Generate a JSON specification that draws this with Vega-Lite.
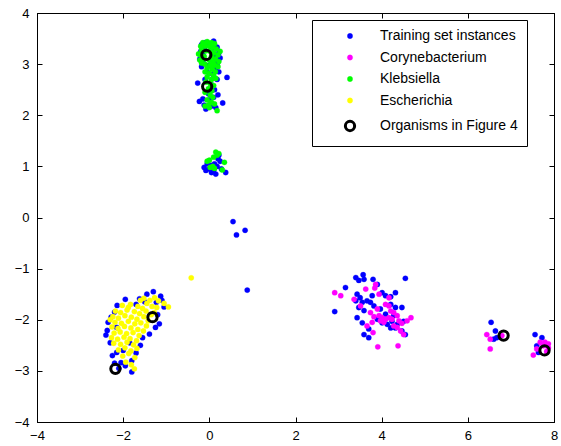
{
"$schema": "https://vega.github.io/schema/vega-lite/v6.json",
"width": 517, "height": 409,
"autosize": {"type": "none"},
"padding": {"left": 37, "top": 13, "right": 7, "bottom": 24},
"background": "white",
"config": {
 "view": {"stroke": "black", "strokeWidth": 1},
 "axis": {"grid": false, "domainColor": "black", "domainWidth": 1, "tickColor": "black", "tickSize": -5, "tickWidth": 1, "labelColor": "black", "labelFont": "Liberation Sans", "labelFontSize": 13, "labelPadding": 12, "labelFlush": false, "labelOverlap": false, "title": null},
 "axisY": {"labelPadding": 13}
},
"data": {"values": [
{"x":-0.18,"y":3.38,"g":"T"},{"x":-0.1,"y":3.42,"g":"T"},{"x":0.0,"y":3.4,"g":"T"},{"x":0.1,"y":3.38,"g":"T"},{"x":0.18,"y":3.33,"g":"T"},{"x":-0.2,"y":3.25,"g":"T"},{"x":-0.12,"y":3.3,"g":"T"},{"x":0.05,"y":3.3,"g":"T"},{"x":0.22,"y":3.22,"g":"T"},{"x":-0.22,"y":3.1,"g":"T"},{"x":-0.15,"y":3.05,"g":"T"},{"x":0.12,"y":3.15,"g":"T"},{"x":0.2,"y":3.05,"g":"T"},{"x":0.25,"y":3.12,"g":"T"},{"x":-0.18,"y":2.95,"g":"T"},{"x":0.0,"y":2.98,"g":"T"},{"x":0.15,"y":2.92,"g":"T"},{"x":0.22,"y":2.85,"g":"T"},{"x":-0.05,"y":2.85,"g":"T"},{"x":0.08,"y":2.8,"g":"T"},{"x":0.18,"y":2.7,"g":"T"},{"x":0.41,"y":2.74,"g":"T"},{"x":-0.27,"y":2.63,"g":"T"},{"x":-0.1,"y":2.7,"g":"T"},{"x":0.05,"y":2.6,"g":"T"},{"x":0.12,"y":2.5,"g":"T"},{"x":-0.02,"y":2.42,"g":"T"},{"x":0.1,"y":2.35,"g":"T"},{"x":0.2,"y":2.4,"g":"T"},{"x":-0.23,"y":2.27,"g":"T"},{"x":0.31,"y":2.24,"g":"T"},{"x":-0.12,"y":2.2,"g":"T"},{"x":0.05,"y":2.18,"g":"T"},{"x":-0.15,"y":2.32,"g":"T"},{"x":0.0,"y":2.3,"g":"T"},{"x":0.15,"y":2.15,"g":"T"},{"x":-0.08,"y":2.12,"g":"T"},{"x":0.1,"y":3.45,"g":"T"},{"x":-0.15,"y":3.18,"g":"T"},{"x":0.18,"y":3.0,"g":"T"},
{"x":-0.12,"y":0.98,"g":"T"},{"x":-0.08,"y":0.92,"g":"T"},{"x":0.0,"y":0.95,"g":"T"},{"x":0.05,"y":0.88,"g":"T"},{"x":0.1,"y":0.92,"g":"T"},{"x":0.18,"y":1.0,"g":"T"},{"x":0.12,"y":1.05,"g":"T"},{"x":0.2,"y":1.15,"g":"T"},{"x":0.25,"y":1.1,"g":"T"},{"x":0.05,"y":1.02,"g":"T"},{"x":0.28,"y":0.95,"g":"T"},{"x":0.38,"y":0.88,"g":"T"},{"x":-0.05,"y":1.05,"g":"T"},{"x":0.15,"y":0.85,"g":"T"},{"x":0.22,"y":1.22,"g":"T"},
{"x":0.55,"y":-0.08,"g":"T"},{"x":0.83,"y":-0.25,"g":"T"},{"x":0.63,"y":-0.34,"g":"T"},{"x":0.88,"y":-1.42,"g":"T"},
{"x":-2.14,"y":-1.72,"g":"T"},{"x":-2.37,"y":-2.21,"g":"T"},{"x":-2.28,"y":-1.95,"g":"T"},{"x":-1.62,"y":-1.59,"g":"T"},{"x":-1.13,"y":-1.54,"g":"T"},{"x":-1.23,"y":-1.66,"g":"T"},{"x":-1.16,"y":-2.08,"g":"T"},{"x":-1.39,"y":-2.28,"g":"T"},{"x":-2.15,"y":-2.64,"g":"T"},{"x":-1.8,"y":-2.8,"g":"T"},{"x":-1.8,"y":-3.02,"g":"T"},{"x":-2.05,"y":-2.84,"g":"T"},{"x":-2.3,"y":-2.45,"g":"T"},{"x":-2.35,"y":-2.05,"g":"T"},{"x":-1.95,"y":-1.6,"g":"T"},{"x":-1.45,"y":-1.5,"g":"T"},{"x":-1.1,"y":-1.62,"g":"T"},{"x":-1.05,"y":-1.75,"g":"T"},{"x":-1.25,"y":-2.15,"g":"T"},{"x":-1.55,"y":-2.35,"g":"T"},{"x":-2.25,"y":-2.7,"g":"T"},{"x":-2.1,"y":-2.95,"g":"T"},{"x":-2.2,"y":-2.85,"g":"T"},{"x":-1.95,"y":-2.9,"g":"T"},{"x":-1.7,"y":-2.65,"g":"T"},{"x":-2.4,"y":-2.3,"g":"T"},{"x":-2.2,"y":-1.85,"g":"T"},{"x":-1.3,"y":-1.45,"g":"T"},{"x":-1.5,"y":-1.65,"g":"T"},{"x":-1.2,"y":-1.9,"g":"T"},{"x":-1.6,"y":-2.5,"g":"T"},{"x":-2.0,"y":-2.6,"g":"T"},{"x":-1.85,"y":-2.45,"g":"T"},{"x":-2.15,"y":-2.15,"g":"T"},{"x":-1.7,"y":-1.7,"g":"T"},
{"x":3.40,"y":-1.175,"g":"T"},{"x":3.47,"y":-1.23,"g":"T"},{"x":3.57,"y":-1.12,"g":"T"},{"x":3.59,"y":-1.21,"g":"T"},{"x":3.80,"y":-1.21,"g":"T"},{"x":3.90,"y":-1.31,"g":"T"},{"x":4.55,"y":-1.19,"g":"T"},{"x":3.16,"y":-1.37,"g":"T"},{"x":3.43,"y":-1.50,"g":"T"},{"x":3.50,"y":-1.57,"g":"T"},{"x":3.40,"y":-1.63,"g":"T"},{"x":3.55,"y":-1.66,"g":"T"},{"x":3.66,"y":-1.63,"g":"T"},{"x":3.78,"y":-1.53,"g":"T"},{"x":4.01,"y":-1.47,"g":"T"},{"x":4.09,"y":-1.53,"g":"T"},{"x":4.21,"y":-1.55,"g":"T"},{"x":4.32,"y":-1.47,"g":"T"},{"x":3.47,"y":-1.76,"g":"T"},{"x":3.59,"y":-1.82,"g":"T"},{"x":2.91,"y":-1.84,"g":"T"},{"x":3.82,"y":-1.73,"g":"T"},{"x":3.97,"y":-1.79,"g":"T"},{"x":4.21,"y":-1.70,"g":"T"},{"x":4.32,"y":-1.76,"g":"T"},{"x":4.47,"y":-1.76,"g":"T"},{"x":3.43,"y":-1.96,"g":"T"},{"x":3.55,"y":-2.06,"g":"T"},{"x":3.90,"y":-1.99,"g":"T"},{"x":4.01,"y":-2.06,"g":"T"},{"x":4.13,"y":-2.09,"g":"T"},{"x":4.24,"y":-2.03,"g":"T"},{"x":4.36,"y":-2.09,"g":"T"},{"x":4.51,"y":-2.03,"g":"T"},{"x":4.47,"y":-2.22,"g":"T"},{"x":4.55,"y":-2.29,"g":"T"},{"x":3.70,"y":-2.18,"g":"T"},{"x":3.59,"y":-2.29,"g":"T"},{"x":3.70,"y":-2.35,"g":"T"},{"x":4.21,"y":-2.16,"g":"T"},{"x":4.32,"y":-2.16,"g":"T"},{"x":3.74,"y":-1.66,"g":"T"},{"x":4.28,"y":-1.92,"g":"T"},{"x":4.09,"y":-1.89,"g":"T"},
{"x":6.54,"y":-2.05,"g":"T"},{"x":6.64,"y":-2.22,"g":"T"},{"x":6.60,"y":-2.38,"g":"T"},{"x":6.67,"y":-2.35,"g":"T"},{"x":7.56,"y":-2.29,"g":"T"},{"x":7.72,"y":-2.35,"g":"T"},{"x":7.60,"y":-2.51,"g":"T"},{"x":7.64,"y":-2.64,"g":"T"},
{"x":3.86,"y":-1.31,"g":"C"},{"x":3.84,"y":-1.38,"g":"C"},{"x":3.63,"y":-1.40,"g":"C"},{"x":2.91,"y":-1.47,"g":"C"},{"x":3.05,"y":-1.53,"g":"C"},{"x":3.36,"y":-1.60,"g":"C"},{"x":3.51,"y":-1.73,"g":"C"},{"x":3.94,"y":-1.50,"g":"C"},{"x":4.17,"y":-1.57,"g":"C"},{"x":4.09,"y":-1.70,"g":"C"},{"x":4.17,"y":-1.73,"g":"C"},{"x":3.90,"y":-1.79,"g":"C"},{"x":4.21,"y":-1.83,"g":"C"},{"x":4.28,"y":-1.86,"g":"C"},{"x":3.74,"y":-1.86,"g":"C"},{"x":3.82,"y":-1.94,"g":"C"},{"x":3.94,"y":-1.92,"g":"C"},{"x":4.01,"y":-1.96,"g":"C"},{"x":4.09,"y":-1.99,"g":"C"},{"x":4.17,"y":-1.96,"g":"C"},{"x":4.24,"y":-1.99,"g":"C"},{"x":4.36,"y":-1.92,"g":"C"},{"x":4.40,"y":-2.02,"g":"C"},{"x":4.47,"y":-2.07,"g":"C"},{"x":4.59,"y":-2.02,"g":"C"},{"x":4.68,"y":-1.96,"g":"C"},{"x":4.28,"y":-2.12,"g":"C"},{"x":4.36,"y":-2.15,"g":"C"},{"x":4.44,"y":-2.22,"g":"C"},{"x":4.51,"y":-2.29,"g":"C"},{"x":3.78,"y":-2.05,"g":"C"},{"x":3.66,"y":-2.12,"g":"C"},{"x":3.80,"y":-2.25,"g":"C"},{"x":3.91,"y":-2.53,"g":"C"},{"x":4.38,"y":-2.51,"g":"C"},{"x":4.05,"y":-2.05,"g":"C"},{"x":3.97,"y":-2.02,"g":"C"},
{"x":6.44,"y":-2.29,"g":"C"},{"x":6.52,"y":-2.38,"g":"C"},{"x":6.52,"y":-2.57,"g":"C"},{"x":6.79,"y":-2.31,"g":"C"},{"x":7.52,"y":-2.69,"g":"C"},{"x":7.79,"y":-2.44,"g":"C"},{"x":7.87,"y":-2.47,"g":"C"},{"x":7.68,"y":-2.44,"g":"C"},{"x":7.75,"y":-2.51,"g":"C"},{"x":7.87,"y":-2.55,"g":"C"},{"x":7.83,"y":-2.62,"g":"C"},{"x":7.60,"y":-2.57,"g":"C"},
{"x":-0.15,"y":3.42,"g":"K"},{"x":-0.05,"y":3.44,"g":"K"},{"x":0.05,"y":3.42,"g":"K"},{"x":0.12,"y":3.4,"g":"K"},{"x":-0.2,"y":3.35,"g":"K"},{"x":-0.1,"y":3.36,"g":"K"},{"x":0.0,"y":3.35,"g":"K"},{"x":0.08,"y":3.33,"g":"K"},{"x":0.16,"y":3.3,"g":"K"},{"x":-0.18,"y":3.28,"g":"K"},{"x":-0.08,"y":3.26,"g":"K"},{"x":0.02,"y":3.25,"g":"K"},{"x":0.1,"y":3.22,"g":"K"},{"x":0.2,"y":3.18,"g":"K"},{"x":-0.2,"y":3.18,"g":"K"},{"x":-0.12,"y":3.15,"g":"K"},{"x":0.05,"y":3.15,"g":"K"},{"x":0.14,"y":3.1,"g":"K"},{"x":-0.22,"y":3.08,"g":"K"},{"x":-0.15,"y":3.1,"g":"K"},{"x":0.0,"y":3.08,"g":"K"},{"x":0.08,"y":3.05,"g":"K"},{"x":0.22,"y":3.05,"g":"K"},{"x":-0.1,"y":3.0,"g":"K"},{"x":0.02,"y":2.98,"g":"K"},{"x":0.12,"y":2.98,"g":"K"},{"x":-0.18,"y":3.02,"g":"K"},{"x":0.2,"y":2.95,"g":"K"},{"x":-0.05,"y":2.92,"g":"K"},{"x":0.07,"y":2.9,"g":"K"},{"x":0.14,"y":2.85,"g":"K"},{"x":-0.1,"y":2.85,"g":"K"},{"x":0.0,"y":2.82,"g":"K"},{"x":0.1,"y":2.78,"g":"K"},{"x":-0.05,"y":2.75,"g":"K"},{"x":0.05,"y":2.7,"g":"K"},{"x":0.15,"y":2.72,"g":"K"},{"x":-0.08,"y":2.65,"g":"K"},{"x":0.02,"y":2.62,"g":"K"},{"x":0.1,"y":2.58,"g":"K"},{"x":-0.02,"y":2.52,"g":"K"},{"x":0.06,"y":2.48,"g":"K"},{"x":-0.1,"y":2.45,"g":"K"},{"x":0.02,"y":2.4,"g":"K"},{"x":0.08,"y":2.35,"g":"K"},{"x":-0.05,"y":2.3,"g":"K"},{"x":0.05,"y":2.25,"g":"K"},{"x":-0.02,"y":2.2,"g":"K"},{"x":0.12,"y":2.22,"g":"K"},{"x":-0.1,"y":2.18,"g":"K"},{"x":0.18,"y":2.09,"g":"K"},{"x":0.0,"y":2.15,"g":"K"},{"x":0.25,"y":3.25,"g":"K"},{"x":-0.25,"y":3.2,"g":"K"},{"x":0.1,"y":3.0,"g":"K"},
{"x":0.15,"y":1.28,"g":"K"},{"x":0.18,"y":1.22,"g":"K"},{"x":0.1,"y":1.18,"g":"K"},{"x":0.0,"y":1.12,"g":"K"},{"x":-0.05,"y":1.1,"g":"K"},{"x":0.35,"y":1.08,"g":"K"},{"x":0.08,"y":1.0,"g":"K"},{"x":0.12,"y":0.96,"g":"K"},{"x":0.02,"y":0.98,"g":"K"},{"x":0.3,"y":0.93,"g":"K"},{"x":0.22,"y":1.25,"g":"K"},
{"x":-0.42,"y":-1.18,"g":"E"},
{"x":-1.52,"y":-1.58,"g":"E"},{"x":-1.38,"y":-1.62,"g":"E"},{"x":-1.27,"y":-1.57,"g":"E"},{"x":-1.18,"y":-1.63,"g":"E"},{"x":-1.45,"y":-1.68,"g":"E"},{"x":-2.02,"y":-1.72,"g":"E"},{"x":-1.83,"y":-1.70,"g":"E"},{"x":-1.66,"y":-1.74,"g":"E"},{"x":-1.55,"y":-1.78,"g":"E"},{"x":-1.33,"y":-1.74,"g":"E"},{"x":-1.22,"y":-1.76,"g":"E"},{"x":-2.18,"y":-1.83,"g":"E"},{"x":-2.06,"y":-1.86,"g":"E"},{"x":-1.91,"y":-1.81,"g":"E"},{"x":-1.74,"y":-1.84,"g":"E"},{"x":-1.62,"y":-1.88,"g":"E"},{"x":-1.47,"y":-1.83,"g":"E"},{"x":-1.28,"y":-1.86,"g":"E"},{"x":-2.24,"y":-1.94,"g":"E"},{"x":-2.11,"y":-1.97,"g":"E"},{"x":-1.96,"y":-1.92,"g":"E"},{"x":-1.81,"y":-1.95,"g":"E"},{"x":-1.68,"y":-1.99,"g":"E"},{"x":-1.52,"y":-1.94,"g":"E"},{"x":-1.42,"y":-2.02,"g":"E"},{"x":-2.19,"y":-2.05,"g":"E"},{"x":-2.04,"y":-2.07,"g":"E"},{"x":-1.88,"y":-2.03,"g":"E"},{"x":-1.73,"y":-2.08,"g":"E"},{"x":-1.59,"y":-2.06,"g":"E"},{"x":-1.46,"y":-2.12,"g":"E"},{"x":-2.26,"y":-2.14,"g":"E"},{"x":-2.12,"y":-2.17,"g":"E"},{"x":-1.97,"y":-2.13,"g":"E"},{"x":-1.82,"y":-2.16,"g":"E"},{"x":-1.66,"y":-2.19,"g":"E"},{"x":-1.53,"y":-2.22,"g":"E"},{"x":-2.21,"y":-2.26,"g":"E"},{"x":-2.07,"y":-2.24,"g":"E"},{"x":-1.92,"y":-2.27,"g":"E"},{"x":-1.77,"y":-2.25,"g":"E"},{"x":-1.63,"y":-2.31,"g":"E"},{"x":-2.27,"y":-2.35,"g":"E"},{"x":-2.13,"y":-2.38,"g":"E"},{"x":-1.98,"y":-2.34,"g":"E"},{"x":-1.84,"y":-2.37,"g":"E"},{"x":-1.69,"y":-2.41,"g":"E"},{"x":-2.22,"y":-2.46,"g":"E"},{"x":-2.06,"y":-2.48,"g":"E"},{"x":-1.91,"y":-2.44,"g":"E"},{"x":-1.76,"y":-2.49,"g":"E"},{"x":-2.11,"y":-2.59,"g":"E"},{"x":-1.96,"y":-2.55,"g":"E"},{"x":-1.82,"y":-2.61,"g":"E"},{"x":-1.68,"y":-2.56,"g":"E"},{"x":-2.01,"y":-2.71,"g":"E"},{"x":-1.87,"y":-2.66,"g":"E"},{"x":-1.73,"y":-2.74,"g":"E"},{"x":-1.94,"y":-2.83,"g":"E"},{"x":-1.81,"y":-2.88,"g":"E"},{"x":-1.74,"y":-2.96,"g":"E"},{"x":-0.95,"y":-1.75,"g":"E"},{"x":-1.05,"y":-1.68,"g":"E"},{"x":-1.35,"y":-1.9,"g":"E"},{"x":-1.6,"y":-1.62,"g":"E"},{"x":-1.88,"y":-1.76,"g":"E"},{"x":-2.3,"y":-2.0,"g":"E"},
{"x":-0.07,"y":3.18,"g":"O"},{"x":-0.05,"y":2.56,"g":"O"},{"x":-2.18,"y":-2.96,"g":"O"},{"x":-1.32,"y":-1.95,"g":"O"},{"x":6.83,"y":-2.31,"g":"O"},{"x":7.78,"y":-2.6,"g":"O"}
]},
"layer": [
 {"mark": {"type": "point", "shape": "circle", "opacity": 1},
  "encoding": {
   "x": {"field": "x", "type": "quantitative", "scale": {"domain": [-4, 8], "nice": false, "zero": false}, "axis": {"orient": "bottom", "values": [-4, -2, 0, 2, 4, 6, 8]}},
   "y": {"field": "y", "type": "quantitative", "scale": {"domain": [-4, 4], "nice": false, "zero": false}, "axis": {"orient": "left", "values": [-4, -3, -2, -1, 0, 1, 2, 3, 4]}},
   "fill": {"field": "g", "type": "nominal", "scale": {"domain": ["T", "C", "K", "E", "O"], "range": ["#0000ff", "#ff00ff", "#00ff00", "#ffff00", "transparent"]},
     "legend": {"orient": "none", "legendX": 275, "legendY": 7, "title": null, "fillColor": "white", "strokeColor": "black", "padding": 9, "rowPadding": 7.5, "labelFont": "Liberation Sans", "labelFontSize": 14, "labelColor": "black", "labelLimit": 400, "symbolOffset": 22, "labelOffset": 23, "symbolOpacity": 1,
       "labelExpr": "(datum.label == 'T' ? 'Training set instances' : datum.label == 'C' ? 'Corynebacterium' : datum.label == 'K' ? 'Klebsiella' : datum.label == 'E' ? 'Escherichia' : 'Organisms in Figure 4') + '   '"}},
   "stroke": {"field": "g", "type": "nominal", "scale": {"domain": ["T", "C", "K", "E", "O"], "range": ["#0000ff", "#ff00ff", "#00ff00", "#ffff00", "#000000"]}},
   "size": {"field": "g", "type": "nominal", "scale": {"type": "ordinal", "domain": ["T", "C", "K", "E", "O"], "range": [28, 28, 28, 28, 86]}},
   "strokeWidth": {"field": "g", "type": "nominal", "scale": {"type": "ordinal", "domain": ["T", "C", "K", "E", "O"], "range": [0.3, 0.3, 0.3, 0.3, 3]}}
  }},
 {"transform": [{"filter": "datum.g == 'O'"}],
  "mark": {"type": "point", "opacity": 0},
  "encoding": {
   "x": {"field": "x", "type": "quantitative", "scale": {"domain": [-4, 8], "nice": false, "zero": false}, "axis": {"orient": "top", "values": [-4, -2, 0, 2, 4, 6, 8], "labels": false}},
   "y": {"field": "y", "type": "quantitative", "scale": {"domain": [-4, 4], "nice": false, "zero": false}, "axis": {"orient": "right", "values": [-4, -3, -2, -1, 0, 1, 2, 3, 4], "labels": false}}
  }}
],
"resolve": {"scale": {"x": "independent", "y": "independent"}}
}
